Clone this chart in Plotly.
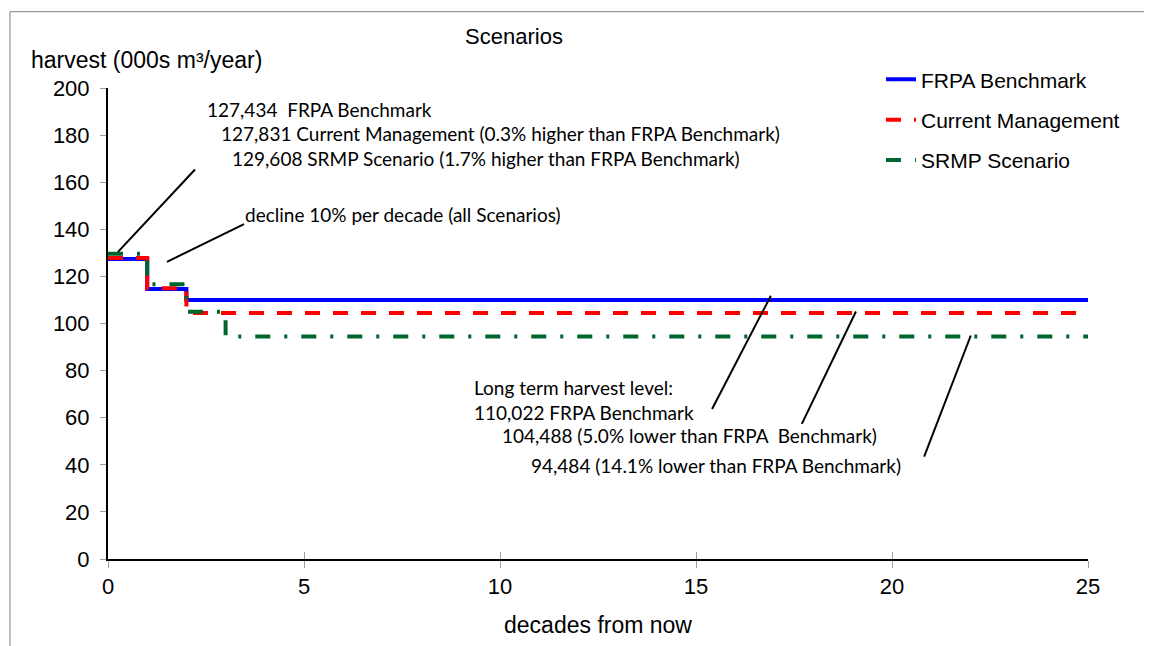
import plotly.graph_objects as go

decades = list(range(0, 26))
frpa = [127.434, 114.7] + [110.022] * 24
current = [127.831, 115.0] + [104.488] * 24
srmp = [129.608, 116.647, 104.982] + [94.484] * 23

series_names = ["FRPA Benchmark", "Current Management", "SRMP Scenario"]
series_vals = [frpa, current, srmp]
series_colors = ["#0000FF", "#FF0000", "#00662E"]
series_dash = ["solid", "15px,13px", "15px,14px,3px,14px"]

fig = go.Figure()
for i, (name, vals, col, dsh) in enumerate(zip(series_names, series_vals, series_colors, series_dash)):
    fig.add_trace(go.Scatter(x=decades, y=vals, mode="lines", name=name,
                             line=dict(color=col, width=4, dash=dsh, shape="hv"),
                             legendgroup=str(i)))

ann_font = dict(family="Lato, Open Sans, sans-serif", size=19, color="black")
texts = [
    (2.47, 190.7, "127,434  FRPA Benchmark"),
    (2.83, 180.6, "127,831 Current Management (0.3% higher than FRPA Benchmark)"),
    (3.11, 170.0, "129,608 SRMP Scenario (1.7% higher than FRPA Benchmark)"),
    (3.44, 146.4, "decline 10% per decade (all Scenarios)"),
    (9.29, 73.0, "Long term harvest level:"),
    (9.29, 62.4, "110,022 FRPA Benchmark"),
    (10.0, 52.3, "104,488 (5.0% lower than FRPA  Benchmark)"),
    (10.74, 39.7, "94,484 (14.1% lower than FRPA Benchmark)"),
]
for x, y, t in texts:
    fig.add_annotation(x=x, y=y, xref="x", yref="y", text=t, showarrow=False,
                       xanchor="left", yanchor="middle", font=ann_font)

callouts = [
    (0.255, 130.4, 2.22, 165.4),
    (1.505, 126.2, 3.47, 142.2),
    (15.41, 63.7, 16.91, 111.8),
    (17.70, 57.4, 19.08, 105.1),
    (20.82, 43.5, 22.01, 94.9),
]
for x0, y0, x1, y1 in callouts:
    fig.add_shape(type="line", xref="x", yref="y", x0=x0, y0=y0, x1=x1, y1=y1,
                  line=dict(color="black", width=2))

# outer border
fig.add_shape(type="rect", xref="paper", yref="paper", x0=-0.1, y0=-0.3, x1=1.3, y1=1.162,
              line=dict(color="#808080", width=1), layer="below")

fig.add_annotation(xref="paper", yref="paper", x=(30 - 109) / 980, y=(562 - 60) / 474,
                   text="harvest (000s m³/year)", showarrow=False, xanchor="left", yanchor="middle",
                   font=dict(family="Liberation Sans, Arial", size=23, color="black"))

W, H = 1144, 638
fig.update_layout(
    width=W, height=H,
    margin=dict(l=100, r=W - 100 - 980, t=80, b=H - 80 - 474),
    paper_bgcolor="white", plot_bgcolor="white",
    title=dict(text="Scenarios", x=(515 - 9) / W, xanchor="center", y=1 - 28 / H, yanchor="middle",
               font=dict(family="Liberation Sans, Arial", size=22, color="black")),
    font=dict(family="Liberation Sans, Arial", color="black"),
    showlegend=True,
    legend=dict(x=(882 - 109) / 980, y=(562 - 59) / 474, xanchor="left", yanchor="top",
                font=dict(size=21, family="Liberation Sans, Arial"), bgcolor="rgba(0,0,0,0)",
                tracegroupgap=10, traceorder="grouped"),
    xaxis=dict(range=[0, 25], tickvals=[0, 5, 10, 15, 20, 25], showgrid=False, zeroline=False,
               showline=True, linecolor="black", linewidth=2, ticks="outside", ticklen=7,
               tickcolor="#A0A0A0", tickfont=dict(size=22),
               title=dict(text="decades from now", font=dict(size=23), standoff=18)),
    xaxis2=dict(range=[0, 25], tickvals=[0, 5, 10, 15, 20, 25], overlaying="x", side="bottom",
                showgrid=False, zeroline=False, showline=False, ticks="inside", ticklen=7,
                tickcolor="#A0A0A0", showticklabels=False),
    yaxis=dict(range=[0, 200], tickvals=list(range(0, 201, 20)), showgrid=False, zeroline=False,
               showline=True, linecolor="black", linewidth=2, ticks="outside", ticklen=6,
               tickcolor="#A0A0A0", tickfont=dict(size=22), ticklabelstandoff=6),
)
fig.add_trace(go.Scatter(x=[0], y=[0], xaxis="x2", mode="markers", marker=dict(opacity=0),
                         showlegend=False, hoverinfo="skip"))

fig.write_html("out.html")
